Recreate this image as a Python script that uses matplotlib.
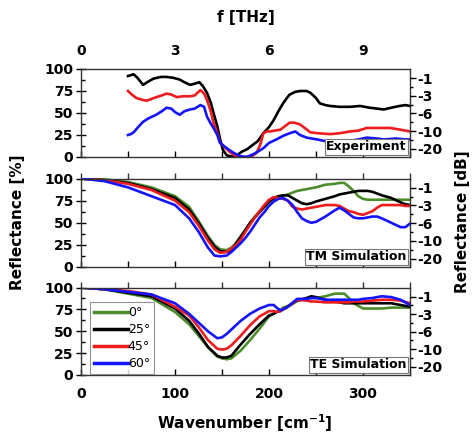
import matplotlib
matplotlib.use("Agg")
import matplotlib.pyplot as plt
import numpy as np
from matplotlib.ticker import FixedLocator, MultipleLocator

plt.rcParams['font.family'] = ['DejaVu Sans']
plt.rcParams['font.weight'] = 'bold'

# ---------------- data ----------------
angles = ['0°', '25°', '45°', '60°']
colors = ['#4c8c2b', '#000000', '#ee1c1c', '#1414ff']

# Experiment (only 25°, 45°, 60° measured)
exp_black_x = [50, 56, 60, 66, 72, 77, 85, 91, 98, 105, 110, 116, 120, 126, 130, 134, 138, 141, 145, 148, 151, 155, 158, 162, 166, 171, 177, 183, 188, 194, 200, 205, 210, 215, 219, 222, 228, 233, 240, 244, 250, 254, 260, 265, 275, 286, 297, 307, 315, 322, 330, 339, 345, 350]
exp_black_y = [92, 94, 90, 82, 86, 89, 91, 91, 90, 88, 85, 82, 83, 85, 80, 73, 62, 50, 35, 20, 8, 2, 1, 1, 2, 6, 9, 14, 18, 27, 34, 42, 52, 61, 67, 71, 74, 75, 75, 73, 67, 61, 59, 58, 57, 57, 58, 56, 55, 54, 56, 58, 59, 58]

exp_red_x = [50, 54, 59, 65, 70, 75, 80, 86, 91, 96, 102, 108, 116, 121, 127, 131, 134, 138, 141, 145, 148, 153, 158, 162, 166, 171, 176, 182, 187, 191, 194, 198, 201, 206, 212, 217, 222, 227, 233, 238, 244, 252, 265, 275, 286, 295, 304, 315, 329, 340, 350]
exp_red_y = [75, 71, 67, 65, 64, 66, 68, 70, 72, 71, 68, 69, 69, 70, 76, 72, 65, 52, 39, 27, 16, 11, 6, 3, 0, 0, 0, 1, 5, 15, 27, 29, 29, 30, 31, 35, 39, 39, 37, 33, 28, 27, 26, 27, 29, 30, 33, 33, 33, 31, 29]

exp_blue_x = [50, 53, 56, 60, 66, 72, 80, 86, 91, 96, 100, 105, 110, 116, 121, 127, 131, 134, 138, 141, 145, 148, 155, 162, 169, 176, 183, 188, 194, 200, 208, 215, 222, 228, 233, 240, 251, 260, 272, 285, 295, 304, 315, 322, 335, 345, 350]
exp_blue_y = [25, 26, 28, 33, 40, 44, 48, 52, 56, 55, 51, 48, 52, 54, 55, 59, 57, 46, 38, 33, 25, 16, 10, 5, 1, 0, 3, 6, 10, 16, 20, 24, 27, 29, 25, 22, 20, 18, 18, 18, 20, 22, 21, 20, 21, 20, 20]

# TM simulation
tm_x = [0, 25, 50, 75, 100, 115, 125, 135, 142, 148, 155, 160, 165, 170, 175, 180, 185, 190, 195, 200, 205, 210, 215, 220, 225, 230, 235, 240, 245, 250, 260, 270, 275, 280, 285, 290, 295, 300, 305, 310, 315, 320, 330, 340, 345, 350]
tm_green = [100, 99, 96, 90, 80, 68, 52, 35, 25, 20, 19, 22, 27, 35, 42, 50, 57, 63, 68, 73, 76, 79, 80, 82, 84, 86, 87, 88, 89, 90, 93, 94, 95, 95, 91, 86, 80, 77, 76, 76, 76, 76, 76, 76, 76, 76]
tm_black = [100, 98, 95, 88, 78, 65, 50, 33, 23, 18, 17, 19, 27, 34, 42, 50, 56, 62, 68, 74, 78, 80, 81, 81, 78, 75, 72, 71, 72, 74, 77, 80, 82, 83, 84, 85, 86, 86, 86, 85, 83, 81, 78, 73, 71, 70]
tm_red = [100, 98, 94, 87, 75, 62, 47, 30, 20, 16, 17, 21, 25, 31, 40, 48, 56, 63, 70, 76, 79, 78, 77, 75, 68, 66, 65, 66, 67, 68, 70, 70, 69, 66, 63, 62, 60, 59, 61, 63, 67, 70, 70, 70, 69, 69]
tm_blue = [100, 97, 90, 80, 70, 55, 40, 22, 13, 12, 13, 17, 22, 27, 33, 40, 48, 56, 62, 69, 74, 77, 78, 75, 70, 62, 55, 52, 50, 51, 57, 64, 67, 64, 60, 56, 55, 55, 56, 57, 57, 55, 50, 45, 45, 49]

# TE simulation
te_x = [0, 25, 50, 75, 100, 115, 125, 135, 145, 150, 155, 160, 170, 180, 190, 200, 205, 208, 212, 215, 220, 230, 240, 245, 250, 260, 270, 275, 280, 285, 290, 295, 300, 310, 320, 330, 340, 350]
te_green = [100, 98, 93, 88, 72, 58, 45, 32, 21, 19, 18, 19, 28, 40, 53, 67, 70, 72, 74, 77, 79, 85, 87, 88, 88, 90, 93, 93, 93, 88, 82, 79, 76, 76, 76, 77, 77, 77]
te_black = [100, 98, 94, 90, 76, 62, 48, 32, 22, 20, 20, 22, 35, 47, 58, 68, 70, 72, 73, 75, 78, 85, 88, 90, 89, 86, 84, 83, 82, 82, 82, 82, 82, 82, 82, 82, 80, 78]
te_red = [100, 98, 96, 92, 78, 68, 55, 40, 30, 29, 30, 34, 45, 57, 67, 73, 73, 72, 73, 75, 78, 86, 85, 84, 84, 83, 83, 83, 83, 83, 84, 84, 84, 85, 86, 86, 85, 82]
te_blue = [100, 98, 95, 92, 82, 70, 60, 50, 42, 43, 47, 52, 62, 70, 76, 80, 80, 77, 74, 75, 78, 87, 87, 88, 88, 86, 86, 86, 86, 86, 86, 86, 87, 88, 90, 89, 86, 80]

left_ticks = [0, 25, 50, 75, 100]
db_labels = ['-1', '-3', '-6', '-10', '-20']
db_pos = [89.5, 69.5, 49.5, 29.5, 9.5]
thz_labels = ['0', '3', '6', '9']
thz_vals = [0, 3, 6, 9]
x_ticks = [0, 100, 200, 300]
panel_titles = ['Experiment', 'TM Simulation', 'TE Simulation']

# ---------------- figure ----------------
W, H = 476, 433
fig = plt.figure(figsize=(W / 100, H / 100), dpi=100)

left = 81 / W
width = (410 - 81) / W
panels = [(69, 157), (178.5, 267), (287.5, 375)]
axes = []
for top, bot in panels:
    ax = fig.add_axes([left, 1 - bot / H, width, (bot - top) / H])
    axes.append(ax)

lw = 1.9
TS = 10  # tick label size

def style(ax, show_xlabels, first):
    ax.set_xlim(0, 350)
    ax.set_ylim(0, 100)
    ax.set_yticks(left_ticks)
    ax.yaxis.set_minor_locator(MultipleLocator(12.5))
    ax.set_xticks(x_ticks)
    ax.xaxis.set_minor_locator(MultipleLocator(50))
    ax.tick_params(axis='y', which='major', direction='inout', length=7, width=1,
                   labelsize=TS, pad=2)
    ax.tick_params(axis='y', which='minor', direction='in', length=3, width=1)
    ax.tick_params(axis='x', which='both', direction='in', length=4, width=1,
                   top=first, labelsize=TS, labelbottom=show_xlabels, pad=9)
    for sp in ax.spines.values():
        sp.set_linewidth(1.0)
        sp.set_color('#333333')
    for lab in ax.get_yticklabels() + ax.get_xticklabels():
        lab.set_fontweight('bold')
    tw = ax.twinx()
    tw.set_ylim(0, 100)
    tw.yaxis.set_major_locator(FixedLocator(db_pos))
    tw.set_yticklabels(db_labels)
    tw.yaxis.set_minor_locator(FixedLocator([79.5, 59.5, 39.5, 19.5]))
    tw.tick_params(axis='y', which='major', direction='out', length=4, width=1,
                   labelsize=TS, pad=1)
    tw.tick_params(axis='y', which='minor', direction='out', length=2, width=1)
    for lab in tw.get_yticklabels():
        lab.set_fontweight('bold')
    for sp in tw.spines.values():
        sp.set_visible(False)
    if not first:
        tx = ax.twiny()
        tx.set_xlim(0, 350)
        tx.set_xticks(x_ticks)
        tx.xaxis.set_minor_locator(MultipleLocator(50))
        tx.tick_params(axis='x', which='both', direction='out', length=4, width=1,
                       color='#333333', labeltop=False)
        for sp in tx.spines.values():
            sp.set_visible(False)
    return tw

for i, ax in enumerate(axes):
    style(ax, i == 2, i == 0)

# experiment
ax = axes[0]
ax.plot(exp_black_x, exp_black_y, color=colors[1], lw=lw)
ax.plot(exp_red_x, exp_red_y, color=colors[2], lw=lw)
ax.plot(exp_blue_x, exp_blue_y, color=colors[3], lw=lw)

# TM
ax = axes[1]
for y, c in zip([tm_green, tm_black, tm_red, tm_blue], colors):
    ax.plot(tm_x, y, color=c, lw=lw)

# TE
ax = axes[2]
lines = []
for y, c, lab in zip([te_green, te_black, te_red, te_blue], colors, angles):
    l, = ax.plot(te_x, y, color=c, lw=lw, label=lab)
    lines.append(l)
leg = ax.legend(handles=lines, loc='upper left', bbox_to_anchor=(0.028, 0.83),
                fontsize=9, handlelength=2.7, handletextpad=0.0,
                labelspacing=0.32, borderpad=0.3, frameon=True, fancybox=False,
                borderaxespad=0)
leg.get_frame().set_edgecolor('#777777')
leg.get_frame().set_linewidth(0.8)
for t in leg.get_texts():
    t.set_fontweight('normal')
for l in leg.get_lines():
    l.set_linewidth(2.5)

for ax, title in zip(axes, panel_titles):
    ax.text(0.99, 0.04, title, transform=ax.transAxes, ha='right', va='bottom',
            fontsize=9, fontweight='bold', zorder=5,
            bbox=dict(boxstyle='square,pad=0.12', facecolor='white',
                      edgecolor='#777777', linewidth=0.8))

# top THz axis
top = axes[0].twiny()
top.set_xlim(0, 350)
top.set_xticks([v * 33.356 for v in thz_vals])
top.set_xticklabels(thz_labels)
top.tick_params(axis='x', direction='in', length=0, labelsize=TS, pad=8)
for lab in top.get_xticklabels():
    lab.set_fontweight('bold')
for sp in top.spines.values():
    sp.set_visible(False)
top.set_xlabel('f [THz]', fontsize=11, fontweight='bold', labelpad=16)

fig.text(245 / W, 1 - 423 / H, 'Wavenumber [cm$^{\\mathbf{-1}}$]', ha='center',
         va='center', fontsize=11, fontweight='bold')

fig.text(18 / W, 1 - 222 / H, 'Reflectance [%]', rotation=90, ha='center',
         va='center', fontsize=11, fontweight='bold')
fig.text(462 / W, 1 - 222 / H, 'Reflectance [dB]', rotation=90, ha='center',
         va='center', fontsize=11, fontweight='bold')

fig.savefig('out.png', dpi=100)
